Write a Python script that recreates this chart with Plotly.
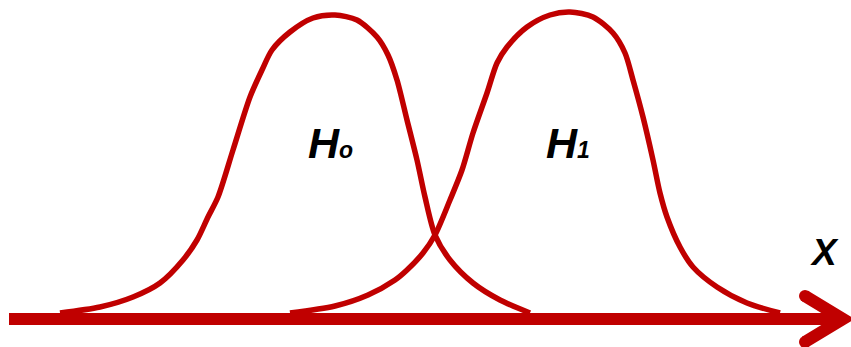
import plotly.graph_objects as go

# H0 curve (pixel-space estimates: x to the right, y downward)
h0_x = [60, 100, 133, 160, 183, 197, 208, 218, 233, 250, 262, 272, 290, 313, 335, 357, 377, 388, 397, 407, 417, 425, 435, 450, 473, 500, 530]
h0_y = [313, 307, 297, 283, 260, 240, 217, 197, 150, 97, 70, 50, 32, 18, 15, 20, 37, 55, 80, 120, 160, 197, 235, 260, 283, 300, 313]

# H1 curve
h1_x = [290, 335, 368, 395, 407, 423, 435, 450, 462, 473, 487, 497, 507, 527, 550, 570, 593, 613, 625, 633, 643, 653, 660, 667, 680, 693, 717, 747, 780]
h1_y = [313, 306, 295, 280, 270, 253, 235, 200, 170, 133, 93, 63, 47, 27, 15, 12, 17, 33, 53, 80, 117, 160, 193, 217, 247, 267, 287, 303, 313]

# axis arrow
axis_x = [9, 840]
axis_y = [319, 319]
head_x = [805, 843, 805]
head_y = [296, 319, 342]

labels = ["H<span style='font-size:23px'>o</span>", "H<span style='font-size:23px'>1</span>", "X"]
label_x = [330, 568, 824]
label_y = [143, 143, 252]
label_size = [43, 43, 37]

RED = "#C00000"

fig = go.Figure()
fig.add_trace(go.Scatter(x=axis_x, y=axis_y, mode="lines",
                         line=dict(color=RED, width=12), hoverinfo="skip"))
fig.add_trace(go.Scatter(x=head_x, y=head_y, mode="lines",
                         line=dict(color=RED, width=12), hoverinfo="skip"))
fig.add_trace(go.Scatter(x=[head_x[0], head_x[2]], y=[head_y[0], head_y[2]], mode="markers",
                         marker=dict(color=RED, size=12, line=dict(width=0)), hoverinfo="skip"))
fig.add_trace(go.Scatter(x=h0_x, y=h0_y, mode="lines",
                         line=dict(color=RED, width=5.5, shape="spline", smoothing=0.8), hoverinfo="skip"))
fig.add_trace(go.Scatter(x=h1_x, y=h1_y, mode="lines",
                         line=dict(color=RED, width=5.5, shape="spline", smoothing=0.8), hoverinfo="skip"))

for t, x, y, s in zip(labels, label_x, label_y, label_size):
    fig.add_annotation(x=x, y=y, text=t, showarrow=False, xanchor="center", yanchor="middle",
                       font=dict(family="Liberation Sans, Arial, sans-serif", size=s, color="black",
                                 weight="bold", style="italic"))

fig.update_layout(
    width=851, height=347,
    margin=dict(l=0, r=0, t=0, b=0),
    paper_bgcolor="white", plot_bgcolor="white",
    showlegend=False,
    xaxis=dict(range=[0, 851], visible=False, fixedrange=True),
    yaxis=dict(range=[347, 0], visible=False, fixedrange=True),
)
fig.write_html("out.html", config={"displayModeBar": False},
               post_script="document.body.style.margin='0';document.body.style.overflow='hidden';")
